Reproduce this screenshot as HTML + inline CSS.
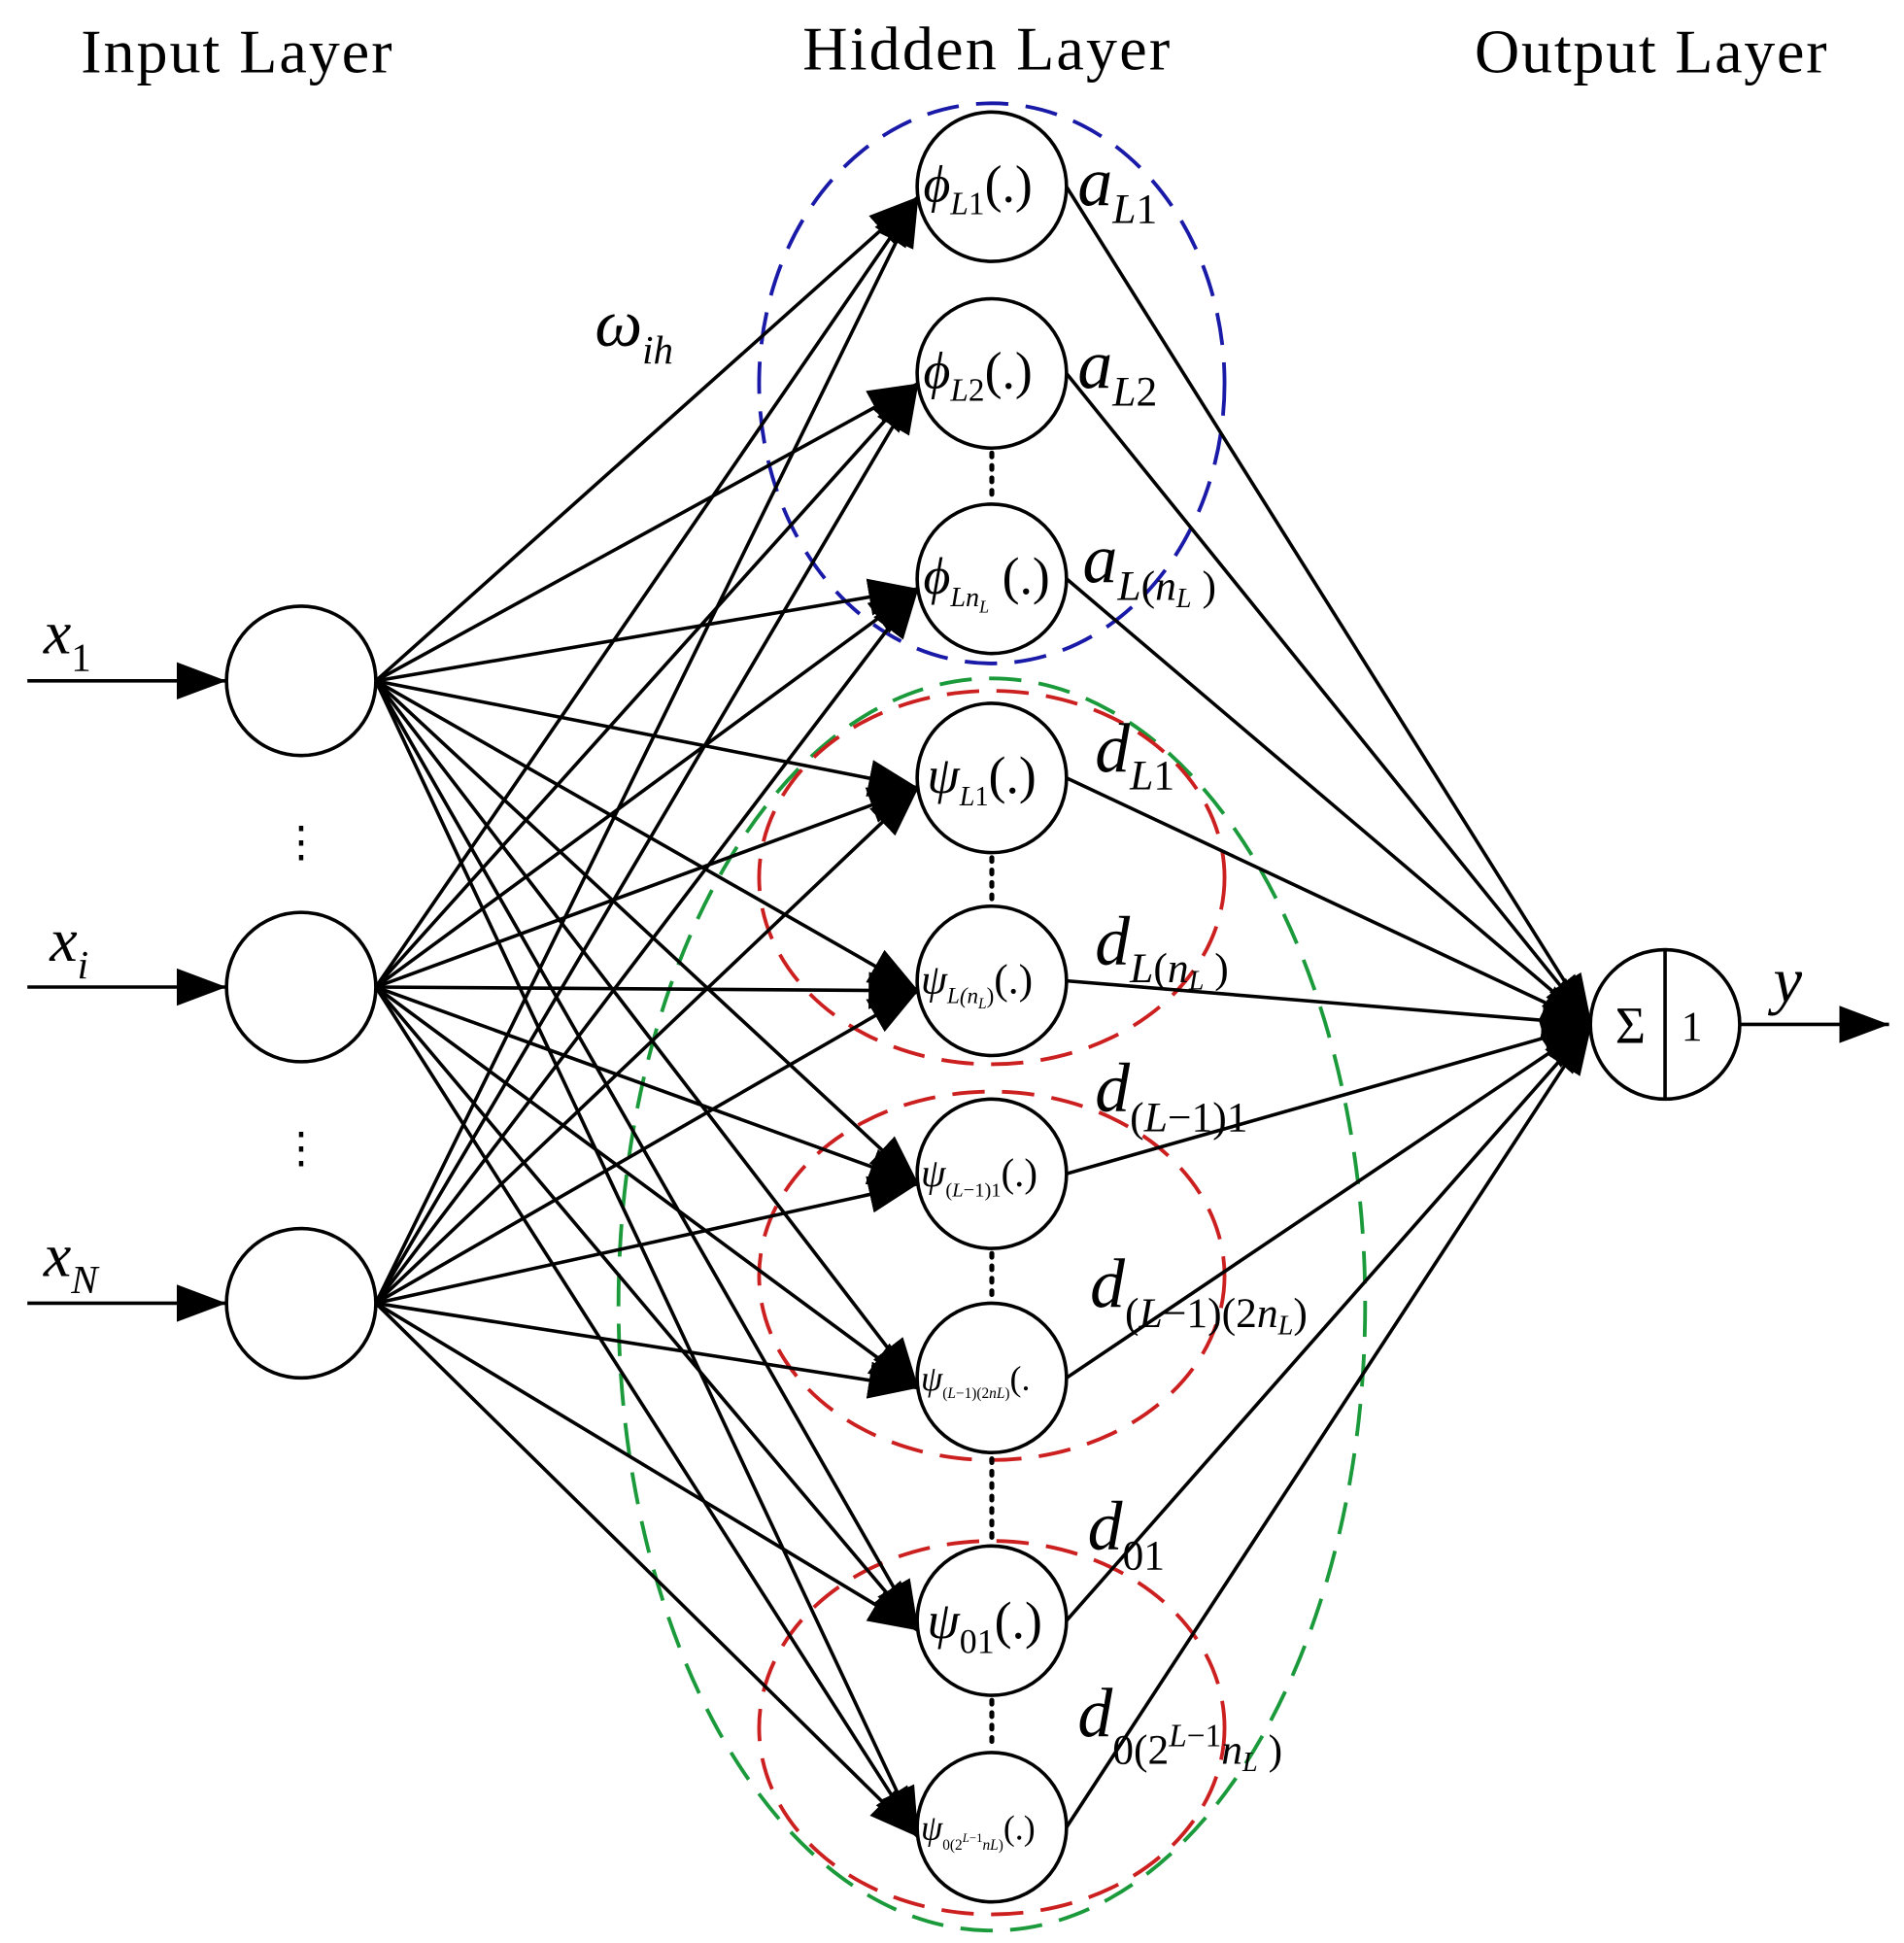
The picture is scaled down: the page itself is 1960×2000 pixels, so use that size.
<!DOCTYPE html>
<html><head><meta charset="utf-8"><style>
html,body{margin:0;padding:0;background:#fff;width:1960px;height:2000px;overflow:hidden}
svg{display:block}
text{font-family:"Liberation Serif",serif;fill:#000}
.it{font-style:italic}
</style></head><body>
<svg id="s" width="1960" height="2000" viewBox="0 0 1530 1561" preserveAspectRatio="none" xmlns="http://www.w3.org/2000/svg">
<defs>
<marker id="ah" markerUnits="userSpaceOnUse" markerWidth="44" markerHeight="34" refX="40" refY="15" orient="auto">
<path d="M0,0 L40,15 L0,30 z" fill="#000"/></marker>
</defs>
<g fill="none" stroke-width="3" stroke-dasharray="26,14">
<ellipse cx="797" cy="308" rx="187" ry="225" stroke="#1a1aa8"/>
<ellipse cx="797" cy="1048" rx="300" ry="503" stroke="#1a9a3a"/>
<ellipse cx="797" cy="705" rx="187" ry="150" stroke="#cc2020"/>
<ellipse cx="797" cy="1025" rx="187" ry="148" stroke="#cc2020"/>
<ellipse cx="797" cy="1388" rx="187" ry="150" stroke="#cc2020"/>
</g>
<g id="lines" stroke="#000" stroke-width="2.8" fill="none"></g>
<g fill="#fff" stroke="#000" stroke-width="2.8">
<circle cx="242" cy="547" r="60"/><circle cx="242" cy="793" r="60"/><circle cx="242" cy="1047" r="60"/>
<circle cx="797" cy="150" r="60"/><circle cx="797" cy="300" r="60"/><circle cx="797" cy="465" r="60"/>
<circle cx="797" cy="625" r="60"/><circle cx="797" cy="788" r="60"/><circle cx="797" cy="943" r="60"/>
<circle cx="797" cy="1107" r="60"/><circle cx="797" cy="1302" r="60"/><circle cx="797" cy="1468" r="60"/>
<circle cx="1338" cy="823" r="60"/>
<line x1="1338" y1="763" x2="1338" y2="883"/>
</g>
<g id="heads"></g>
<g stroke="#000" stroke-width="4" stroke-dasharray="3,7" stroke-linecap="round">
<line x1="797" y1="364" x2="797" y2="402"/>
<line x1="797" y1="689" x2="797" y2="725"/>
<line x1="797" y1="1007" x2="797" y2="1045"/>
<line x1="797" y1="1172" x2="797" y2="1240"/>
<line x1="797" y1="1366" x2="797" y2="1405"/>
</g>
<text x="65" y="58" font-size="50" textLength="250">Input Layer</text>
<text x="645" y="56" font-size="50" textLength="295">Hidden Layer</text>
<text x="1185" y="58" font-size="50" textLength="283">Output Layer</text>
<text x="242" y="688" font-size="34" text-anchor="middle">⋮</text>
<text x="242" y="934" font-size="34" text-anchor="middle">⋮</text>
<text class="it" x="478" y="278" font-size="54">ω<tspan font-size="32" dy="14">ih</tspan></text>
<text class="it" x="35" y="525" font-size="50">x<tspan font-size="32" dy="14" font-style="normal">1</tspan></text>
<text class="it" x="40" y="772" font-size="50">x<tspan font-size="32" dy="14">i</tspan></text>
<text class="it" x="35" y="1025" font-size="50">x<tspan font-size="32" dy="14">N</tspan></text>
<text class="it" x="1425" y="805" font-size="52">y</text>
<text x="1298" y="838" font-size="42">Σ</text>
<text x="1351" y="836" font-size="34">1</text>
<g font-size="42">
<text x="742" y="162"><tspan class="it">ϕ</tspan><tspan class="it" font-size="26" dy="10">L</tspan><tspan font-size="26">1</tspan><tspan dy="-10">(.)</tspan></text>
<text x="742" y="312"><tspan class="it">ϕ</tspan><tspan class="it" font-size="26" dy="10">L</tspan><tspan font-size="26">2</tspan><tspan dy="-10">(.)</tspan></text>
<text x="742" y="477"><tspan class="it">ϕ</tspan><tspan class="it" font-size="22" dy="10">Ln</tspan><tspan class="it" font-size="14" dy="5">L</tspan><tspan dy="-15"> (.)</tspan></text>
<text x="745" y="637"><tspan class="it">ψ</tspan><tspan class="it" font-size="22" dy="10">L</tspan><tspan font-size="22">1</tspan><tspan dy="-10">(.)</tspan></text>
<text x="740" y="798" font-size="34"><tspan class="it">ψ</tspan><tspan class="it" font-size="18" dy="8">L(n</tspan><tspan class="it" font-size="12" dy="4">L</tspan><tspan font-size="18" dy="-4">)</tspan><tspan dy="-8">(.)</tspan></text>
<text x="740" y="953" font-size="32"><tspan class="it">ψ</tspan><tspan font-size="16" dy="8">(<tspan class="it">L</tspan>−1)1</tspan><tspan dy="-8">(.)</tspan></text>
<text x="740" y="1117" font-size="28"><tspan class="it">ψ</tspan><tspan font-size="12" dy="6">(<tspan class="it">L</tspan>−1)(2<tspan class="it">n</tspan><tspan class="it">L</tspan>)</tspan><tspan dy="-6">(.</tspan></text>
<text x="745" y="1316"><tspan class="it">ψ</tspan><tspan font-size="28" dy="12">01</tspan><tspan dy="-12">(.)</tspan></text>
<text x="740" y="1478" font-size="28"><tspan class="it">ψ</tspan><tspan font-size="12" dy="8">0(2<tspan class="it" dy="-6" font-size="10">L</tspan><tspan font-size="10">−1</tspan><tspan class="it" dy="6">n</tspan><tspan class="it">L</tspan>)</tspan><tspan dy="-8">(.)</tspan></text>
</g>
<g font-size="56">
<text x="866" y="165"><tspan class="it">a</tspan><tspan class="it" font-size="34" dy="14">L</tspan><tspan font-size="34">1</tspan></text>
<text x="866" y="312"><tspan class="it">a</tspan><tspan class="it" font-size="34" dy="14">L</tspan><tspan font-size="34">2</tspan></text>
<text x="870" y="468"><tspan class="it">a</tspan><tspan class="it" font-size="34" dy="14">L</tspan><tspan font-size="34">(<tspan class="it">n</tspan><tspan class="it" font-size="22" dy="6">L</tspan><tspan dy="-6"> )</tspan></tspan></text>
<text x="880" y="620"><tspan class="it">d</tspan><tspan class="it" font-size="34" dy="14">L</tspan><tspan font-size="34">1</tspan></text>
<text x="880" y="775"><tspan class="it">d</tspan><tspan class="it" font-size="34" dy="14">L</tspan><tspan font-size="34">(<tspan class="it">n</tspan><tspan class="it" font-size="22" dy="6">L</tspan><tspan dy="-6"> )</tspan></tspan></text>
<text x="880" y="893"><tspan class="it">d</tspan><tspan font-size="34" dy="16">(<tspan class="it">L</tspan>−1)1</tspan></text>
<text x="876" y="1050"><tspan class="it">d</tspan><tspan font-size="34" dy="16">(<tspan class="it">L</tspan>−1)(2<tspan class="it">n</tspan><tspan class="it" font-size="22" dy="6">L</tspan><tspan dy="-6">)</tspan></tspan></text>
<text x="874" y="1245"><tspan class="it">d</tspan><tspan font-size="34" dy="16">01</tspan></text>
<text x="866" y="1395"><tspan class="it">d</tspan><tspan font-size="34" dy="22">0(2<tspan class="it" font-size="26" dy="-14">L</tspan><tspan font-size="26">−1</tspan><tspan class="it" dy="14">n</tspan><tspan class="it" font-size="22" dy="6">L</tspan><tspan dy="-6"> )</tspan></tspan></text>
</g>
</svg>
<script>
var g=document.getElementById('lines'),NS='http://www.w3.org/2000/svg';
function L(x1,y1,x2,y2,arrow){var l=document.createElementNS(NS,'line');l.setAttribute('x1',x1);l.setAttribute('y1',y1);l.setAttribute('x2',x2);l.setAttribute('y2',y2);if(arrow)l.setAttribute('marker-end','url(#ah)');g.appendChild(l);}
var ins=[547,793,1047],hid=[150,300,465,625,788,943,1107,1302,1468];
ins.forEach(function(y){hid.forEach(function(h){L(302,y,738,h+8,true);});});
hid.forEach(function(h){L(857,h,1279,823,true);});
ins.forEach(function(y){L(22,y,182,y,true);});
L(1398,823,1518,823,true);
</script>
</body></html>
